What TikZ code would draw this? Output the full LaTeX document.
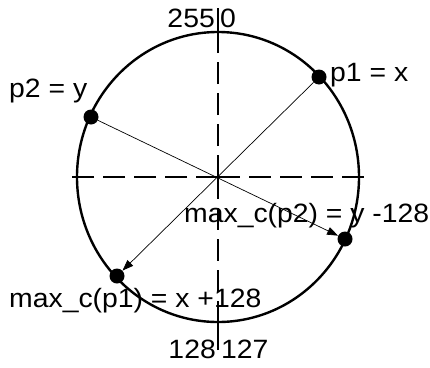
\documentclass[tikz,border=0pt]{standalone}
\usepackage{fontspec}
\setmainfont{Liberation Sans}[FakeStretch=1.07]
\usetikzlibrary{arrows.meta}
\begin{document}
\begin{tikzpicture}[x=1pt,y=-1pt,
  lbl/.style={inner sep=0pt, font=\fontsize{26.5}{30}\selectfont},
  dot/.style={circle, fill=black, inner sep=0pt, minimum size=15pt},
  axis/.style={line width=1.3pt, dash pattern=on 22pt off 9pt},
  axsolid/.style={line width=1.3pt},
  ray/.style={line width=0.7pt, -{Triangle[length=11pt,width=8pt]}},
]
\useasboundingbox (0,0) rectangle (430,367);
\coordinate (c) at (218,177);
\draw[line width=2.4pt] (c) ellipse [x radius=141pt, y radius=145pt];
\coordinate (L) at (67,177);
\coordinate (R) at (365,177);
\coordinate (T) at (218,8);
\coordinate (Ts) at (218,43);
\coordinate (B) at (218,350);
\coordinate (Bs) at (218,316);
\draw[axis] (c) -- (L);
\draw[axis] (c) -- (R);
\draw[axis] (c) -- (T);
\draw[axis] (c) -- (B);
\draw[axsolid] (T) -- (Ts);
\draw[axsolid] (B) -- (Bs);
\node[dot] (p1) at (319,77) {};
\node[dot] (p2) at (91,117) {};
\node[dot] (m2) at (345,239) {};
\node[dot] (m1) at (117,276) {};
\draw[ray] (p1) -- (m1);
\draw[ray] (p2) -- (m2);
\node[lbl, anchor=base east] (t255) at (215,27) {255};
\node[lbl, anchor=base west] (t0) at (220,27) {0};
\node[lbl, anchor=base east] (t128) at (216,358) {128};
\node[lbl, anchor=base west] (t127) at (221,358) {127};
\node[lbl, anchor=base west] (lp2) at (9,97) {p2 = y};
\node[lbl, anchor=base west] (lp1) at (330,81) {p1 = x};
\node[lbl, anchor=base west] (lm2) at (184,222) {max\_c(p2) = y -128};
\node[lbl, anchor=base west] (lm1) at (9,307) {max\_c(p1) = x +128};
\end{tikzpicture}
\end{document}
